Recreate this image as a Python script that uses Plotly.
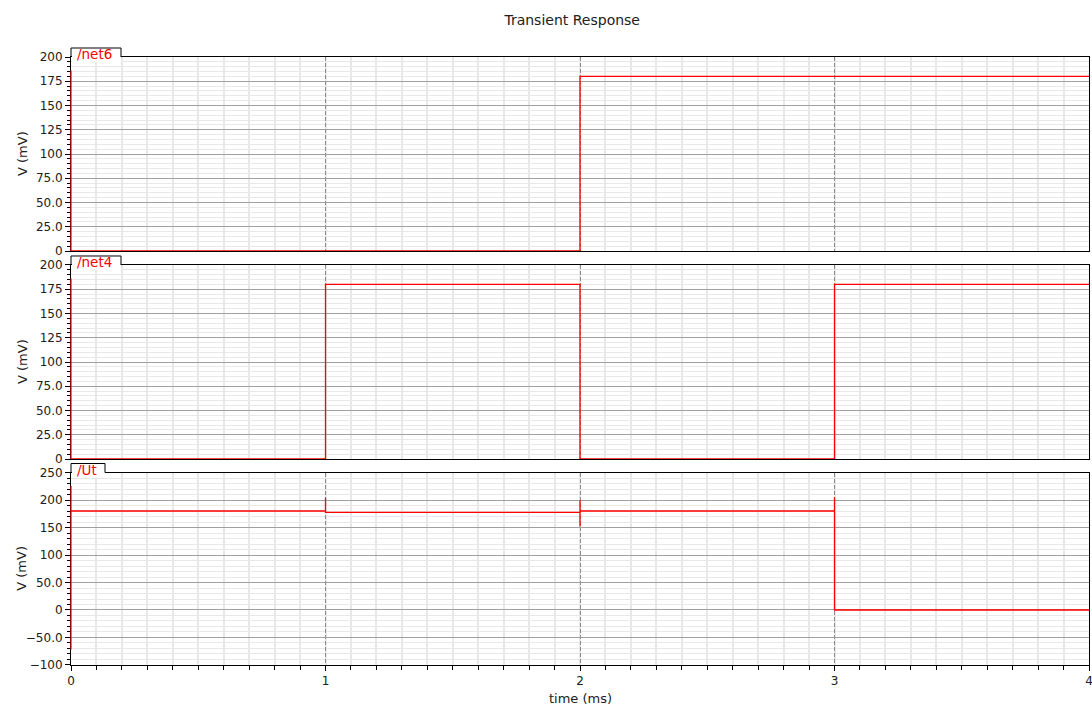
import plotly.graph_objects as go

# Transient waveforms (time in ms, voltage in mV)
net6_t = [0, 2, 2, 4]
net6_mv = [0, 0, 180, 180]

net4_t = [0, 1, 1, 2, 2, 3, 3, 4]
net4_mv = [0, 0, 180, 180, 0, 0, 180, 180]

ut_t = [0, 1, 1, 1, 2, 2, 2, 2, 3, 3, 3, 4]
ut_mv = [180, 180, 204, 177.5, 177.5, 152, 200, 180, 180, 205, 0, 0]

# Axis ticks
mv_ticks_a = [0, 25, 50, 75, 100, 125, 150, 175, 200]
mv_text_a = ["0", "25.0", "50.0", "75.0", "100", "125", "150", "175", "200"]
mv_ticks_b = [-100, -50, 0, 50, 100, 150, 200, 250]
mv_text_b = ["\u2212100", "\u221250.0", "0", "50.0", "100", "150", "200", "250"]
time_ticks = [0, 1, 2, 3, 4]

signals = [
    ("/net6", net6_t, net6_mv, [0, 200], mv_ticks_a, mv_text_a, 5, [0.6809, 1.0], 50),
    ("/net4", net4_t, net4_mv, [0, 200], mv_ticks_a, mv_text_a, 5, [0.3388, 0.6579], 50),
    ("/Ut", ut_t, ut_mv, [-100, 250], mv_ticks_b, mv_text_b, 10, [0.0, 0.3166], 34),
]

FONT = "DejaVu Sans"
TXT = "#202020"
RED = "#ff0000"

fig = go.Figure()
shapes = []
annotations = []

for i, (name, t, v, yr, tv, tt, ydt, dom, tabw) in enumerate(signals, start=1):
    xa = "x" if i == 1 else f"x{i}"
    ya = "y" if i == 1 else f"y{i}"
    fig.add_trace(go.Scatter(
        x=t, y=v, mode="lines", xaxis=xa, yaxis=ya,
        line=dict(color=RED, width=1.3), showlegend=False, hoverinfo="skip",
    ))
    last = i == len(signals)
    xkey = "xaxis" if i == 1 else f"xaxis{i}"
    ykey = "yaxis" if i == 1 else f"yaxis{i}"
    fig.layout[xkey] = dict(
        domain=[0, 1], anchor=ya, range=[0, 4], automargin=False,
        tickvals=time_ticks, ticktext=[str(k) for k in time_ticks],
        showticklabels=last, ticks="outside" if last else "",
        ticklen=5, tickcolor="#000", ticklabeloverflow="allow",
        showgrid=True, gridcolor="#8a8a8a", gridwidth=1, griddash="4px,2px",
        showline=True, linecolor="#000", linewidth=1, mirror=True,
        zeroline=False,
        minor=dict(dtick=0.1, tick0=0, showgrid=True, gridcolor="#e8e8e8",
                   gridwidth=2, griddash="solid",
                   ticks="outside" if last else "", ticklen=4,
                   tickcolor="#000"),
        tickfont=dict(family=FONT, size=12, color=TXT),
        **({} if i == 1 else {"matches": "x"}),
    )
    fig.layout[ykey] = dict(
        domain=dom, anchor=xa, range=yr, automargin=False,
        tickvals=tv, ticktext=tt, ticks="outside", ticklen=5, tickcolor="#000",
        showgrid=True, gridcolor="#a0a0a0", gridwidth=1,
        showline=True, linecolor="#000", linewidth=1, mirror=True,
        zeroline=False,
        minor=dict(dtick=ydt, tick0=0, showgrid=True, gridcolor="#e8e8e8",
                   gridwidth=1, griddash="solid",
                   ticks="outside", ticklen=3, tickcolor="#000"),
        tickfont=dict(family=FONT, size=12, color=TXT),
    )

    # red marker strip along the left axis
    shapes.append(dict(
        type="line", xref=f"{xa} domain", yref=f"{ya} domain",
        x0=0, x1=0, y0=0.08 if last else 0.0, y1=0.93,
        line=dict(color=RED, width=1.2), layer="above",
    ))
    # white tab behind the signal name
    shapes.append(dict(
        type="rect", xref=f"{xa} domain", yref=f"{ya} domain",
        xsizemode="pixel", ysizemode="pixel", xanchor=0, yanchor=1,
        x0=1, x1=tabw, y0=-5, y1=9,
        fillcolor="white", line=dict(width=0), layer="above",
    ))
    shapes.append(dict(
        type="path", xref=f"{xa} domain", yref=f"{ya} domain",
        xsizemode="pixel", ysizemode="pixel", xanchor=0, yanchor=1,
        path=f"M0,0 L0,9 L{tabw},9 L{tabw},0",
        line=dict(color="#000", width=1), layer="above",
    ))
    annotations.append(dict(
        text=name, xref=f"{xa} domain", yref=f"{ya} domain",
        x=0, y=1, xanchor="left", yanchor="middle", xshift=4, yshift=3,
        showarrow=False, font=dict(family=FONT, size=13.5, color=RED),
    ))
    annotations.append(dict(
        text="V (mV)", xref="paper", yref=f"{ya} domain",
        x=0, y=0.5, xanchor="center", yanchor="middle", xshift=-49,
        textangle=-90, showarrow=False,
        font=dict(family=FONT, size=13, color=TXT),
    ))

annotations.append(dict(
    text="time (ms)", xref="paper", yref="paper", x=0.5, y=0,
    xanchor="center", yanchor="middle", yshift=-33, showarrow=False,
    font=dict(family=FONT, size=13, color=TXT),
))

fig.update_layout(
    width=1092, height=707,
    margin=dict(l=71, r=3, t=57, b=42, autoexpand=False),
    paper_bgcolor="white", plot_bgcolor="white",
    title=dict(text="Transient Response", x=0.524, xref="container",
               xanchor="center", y=0.972, yref="container", yanchor="middle",
               font=dict(family=FONT, size=14, color=TXT)),
    shapes=shapes, annotations=annotations,
    showlegend=False,
)

fig.write_html("out.html", config={"displayModeBar": False})
